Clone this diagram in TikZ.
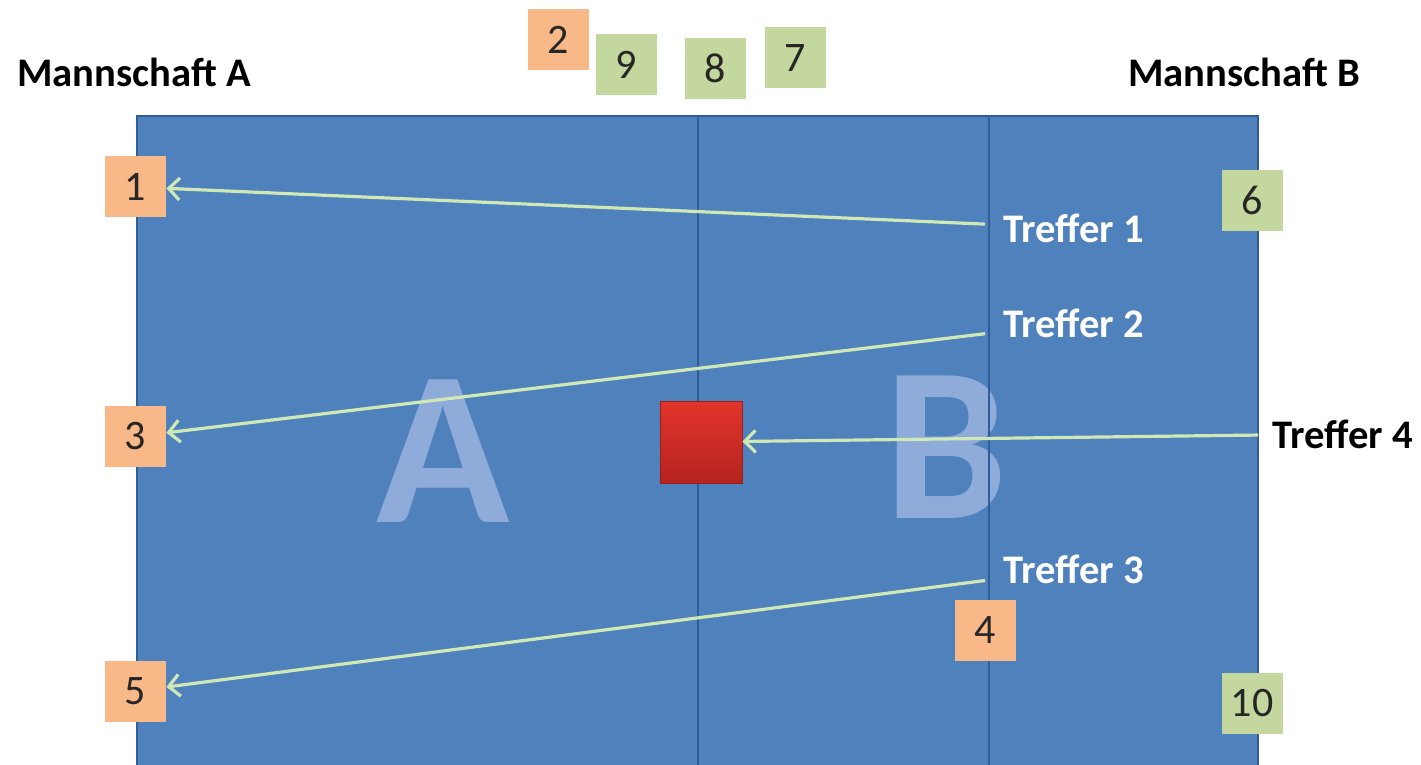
\documentclass[tikz,border=0pt]{standalone}
\usepackage{fontspec}
\setmainfont{Carlito}
\usepackage{tikz}
\usetikzlibrary{arrows.meta}
\definecolor{court}{HTML}{4F81BD}
\definecolor{courtline}{HTML}{2F5D95}
\definecolor{teamA}{HTML}{F8B887}
\definecolor{teamB}{HTML}{C4D79E}
\definecolor{hit}{HTML}{CFE8B6}
\definecolor{ghost}{HTML}{8EABDA}
\definecolor{balltop}{HTML}{E2352C}
\definecolor{ballbot}{HTML}{B5231F}
\tikzset{
  numbox/.style={
    minimum width=30.5pt, minimum height=30.5pt, inner sep=0pt,
    text=black!85, font=\fontsize{21}{21}\selectfont
  },
  abox/.style={numbox, fill=teamA},
  bbox/.style={numbox, fill=teamB},
  teamlabel/.style={anchor=west, inner sep=0pt, font=\bfseries\fontsize{20.3}{24}\selectfont},
  hitlabel/.style={teamlabel, text=white},
  bigletter/.style={text=ghost, font=\bfseries\fontsize{110}{110}\selectfont},
  shot/.style={-{Straight Barb[length=5.5pt,width=11pt]}, line width=1.6pt, draw=hit}
}
\begin{document}
\begin{tikzpicture}[x=0.5pt,y=-0.5pt]
  \useasboundingbox (0,0) rectangle (1421,765);

  % court
  \draw[fill=court, draw=courtline, line width=1pt] (137,116) rectangle (1258,766);
  \node[bigletter] (bigA) at (443,451) {A};
  \node[bigletter] (bigB) at (946,447) {B};
  \draw[courtline, line width=1pt] (698,116) -- (698,765);
  \draw[courtline, line width=1pt] (989,116) -- (989,765);

  % teams
  \node[teamlabel] (mA) at (17,72)   {Mannschaft A};
  \node[teamlabel] (mB) at (1128,72) {Mannschaft B};

  % players
  \node[abox] (n1)  at (135.5,187)   {1};
  \node[abox] (n2)  at (558.5,39.5)  {2};
  \node[abox] (n3)  at (135.5,436.5) {3};
  \node[abox] (n4)  at (985.5,630.5) {4};
  \node[abox] (n5)  at (135.5,691)   {5};
  \node[bbox] (n6)  at (1252,200.5)  {6};
  \node[bbox] (n7)  at (795,58)      {7};
  \node[bbox] (n8)  at (715,68.5)    {8};
  \node[bbox] (n9)  at (626.5,64.5)  {9};
  \node[bbox] (n10) at (1252,703.5)  {10};

  \node[minimum width=41pt, minimum height=41pt, inner sep=0pt,
        top color=balltop, bottom color=ballbot,
        draw=ballbot!85!black, line width=0.4pt] (ball) at (701,442) {};

  % hits
  \node[hitlabel]  (t1) at (1003,228) {Treffer 1};
  \node[hitlabel]  (t2) at (1003,323) {Treffer 2};
  \node[hitlabel]  (t3) at (1003,569) {Treffer 3};
  \node[teamlabel] (t4) at (1272,434) {Treffer 4};

  \draw[shot, shorten <=9pt] (t1) -- (n1);
  \draw[shot, shorten <=9pt] (t2) -- (n3);
  \draw[shot, shorten <=9pt] (t3) -- (n5);
  \draw[shot, shorten <=7pt] (t4) -- (ball);
\end{tikzpicture}
\end{document}
